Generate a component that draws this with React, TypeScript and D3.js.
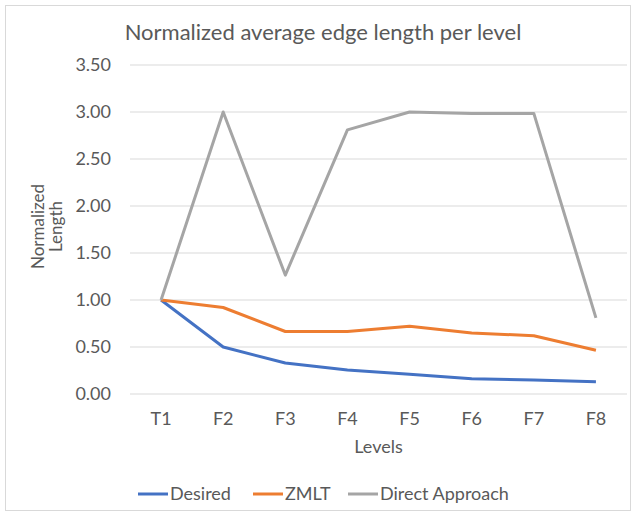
import * as d3 from "d3";
import { useEffect, useRef } from "react";

const levels = ["T1", "F2", "F3", "F4", "F5", "F6", "F7", "F8"];
const desired = [1.0, 0.5, 0.33, 0.255, 0.21, 0.163, 0.148, 0.13];
const zmlt = [1.0, 0.92, 0.665, 0.665, 0.72, 0.65, 0.62, 0.465];
const direct = [1.0, 3.0, 1.265, 2.81, 3.0, 2.985, 2.985, 0.81];
const yTicks = [0, 0.5, 1, 1.5, 2, 2.5, 3, 3.5];

const series = [
    { name: "Desired", values: desired, color: "#4472C4" },
    { name: "ZMLT", values: zmlt, color: "#ED7D31" },
    { name: "Direct Approach", values: direct, color: "#A5A5A5" },
];

const FONT = "Lato, 'Open Sans', sans-serif";
const TEXT = "#595959";

export default function App() {
    const svgRef = useRef(null);

    const width = 636;
    const height = 516;
    const margin = { top: 65, right: 9, bottom: 122, left: 130 };
    const innerWidth = width - margin.left - margin.right;
    const innerHeight = height - margin.top - margin.bottom;

    useEffect(() => {
        const svg = d3.select(svgRef.current);
        svg.selectAll("*").remove();

        // chart border
        svg.append("rect")
            .attr("x", 5.5).attr("y", 5.5)
            .attr("width", width - 11).attr("height", height - 11)
            .attr("fill", "white")
            .attr("stroke", "#D9D9D9");

        svg.append("text")
            .attr("x", 323).attr("y", 40)
            .attr("text-anchor", "middle")
            .attr("font-family", FONT).attr("font-size", 22)
            .attr("fill", TEXT)
            .text("Normalized average edge length per level");

        const g = svg.append("g")
            .attr("transform", `translate(${margin.left},${margin.top})`);

        const xScale = d3.scaleBand().domain(levels).range([0, innerWidth]);
        const yScale = d3.scaleLinear().domain([0, 3.5]).range([innerHeight, 0]);

        // gridlines
        g.append("g").selectAll("line")
            .data(yTicks)
            .join("line")
            .attr("x1", 0).attr("x2", innerWidth)
            .attr("y1", d => yScale(d)).attr("y2", d => yScale(d))
            .attr("stroke", "#D9D9D9").attr("stroke-width", 1);

        // y tick labels
        g.append("g").selectAll("text")
            .data(yTicks)
            .join("text")
            .attr("x", -19).attr("y", d => yScale(d))
            .attr("dy", "0.35em")
            .attr("text-anchor", "end")
            .attr("font-family", FONT).attr("font-size", 18)
            .attr("fill", TEXT)
            .text(d => d3.format(".2f")(d));

        // x tick labels
        g.append("g").selectAll("text")
            .data(levels)
            .join("text")
            .attr("x", d => xScale(d)! + xScale.bandwidth() / 2)
            .attr("y", innerHeight + 31)
            .attr("text-anchor", "middle")
            .attr("font-family", FONT).attr("font-size", 18)
            .attr("fill", TEXT)
            .text(d => d);

        // axis titles
        g.append("text")
            .attr("x", innerWidth / 2).attr("y", innerHeight + 59)
            .attr("text-anchor", "middle")
            .attr("font-family", FONT).attr("font-size", 18)
            .attr("fill", TEXT)
            .text("Levels");

        const yTitle = g.append("text")
            .attr("transform", `translate(-86,${innerHeight / 2 - 3}) rotate(-90)`)
            .attr("text-anchor", "middle")
            .attr("font-family", FONT).attr("font-size", 17)
            .attr("fill", TEXT);
        yTitle.append("tspan").attr("x", 0).attr("dy", 0).text("Normalized");
        yTitle.append("tspan").attr("x", 0).attr("dy", 18).text("Length");

        const line = d3.line<number>()
            .x((_, i) => xScale(levels[i])! + xScale.bandwidth() / 2)
            .y(d => yScale(d));

        // drawing the lines
        g.append("g").selectAll("path")
            .data(series)
            .join("path")
            .attr("d", d => line(d.values))
            .attr("fill", "none")
            .attr("stroke", d => d.color)
            .attr("stroke-width", 3)
            .attr("stroke-linejoin", "round");

        // legend
        const legendX = [138, 253, 348];
        const legend = svg.append("g").selectAll("g")
            .data(series)
            .join("g")
            .attr("transform", (_, i) => `translate(${legendX[i]},494)`);
        legend.append("line")
            .attr("x1", 0).attr("x2", 30)
            .attr("stroke", d => d.color).attr("stroke-width", 3);
        legend.append("text")
            .attr("x", 32).attr("dy", "0.35em")
            .attr("font-family", FONT).attr("font-size", 18)
            .attr("fill", TEXT)
            .text(d => d.name);
    }, [innerHeight, innerWidth, margin.left, margin.top]);

    return (
        <svg ref={svgRef} width={width} height={height}
            style={{ position: "absolute", left: 0, top: 0 }}>
        </svg>
    );
}
